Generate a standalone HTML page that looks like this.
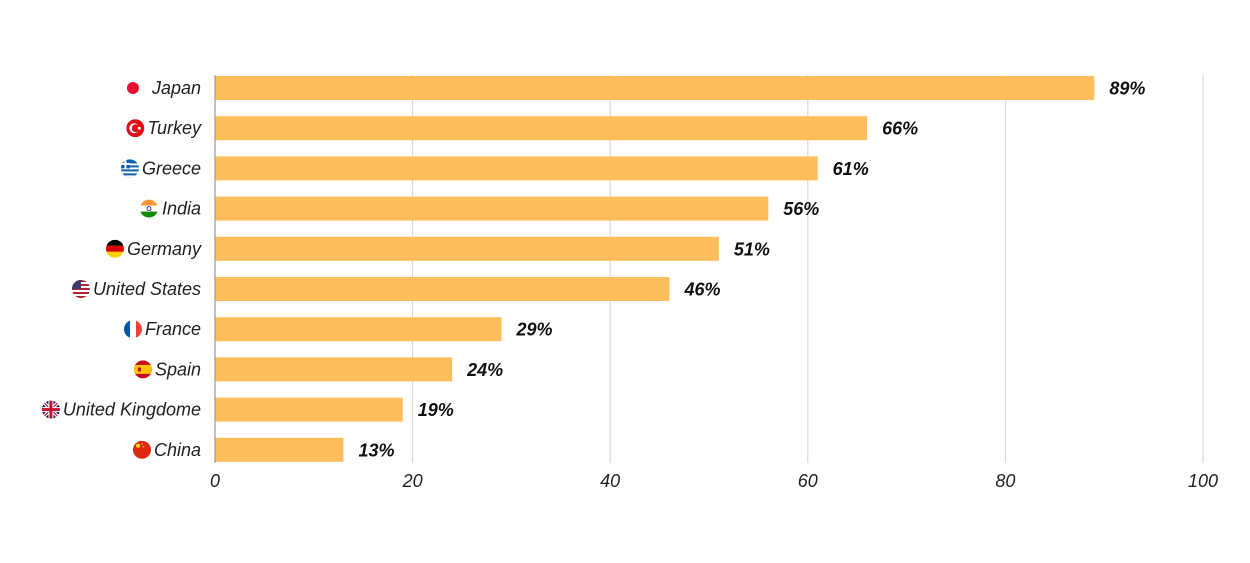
<!DOCTYPE html>
<html><head><meta charset="utf-8"><style>
html,body{margin:0;padding:0;background:#fff;}
svg{display:block;font-family:"Liberation Sans",sans-serif;}
</style></head><body>
<svg id="chart" width="1250" height="563" viewBox="0 0 1250 563" xmlns="http://www.w3.org/2000/svg">
<defs>
<clipPath id="fc"><circle cx="0" cy="0" r="9"/></clipPath>
</defs>
<g id="grid"></g>
<g id="bars"></g>
<g id="labels"></g>
<g id="ticks"></g>
</svg>
<script>
const categories=["Japan","Turkey","Greece","India","Germany","United States","France","Spain","United Kingdome","China"];
const values=[89,66,61,56,51,46,29,24,19,13];
const tickValues=[0,20,40,60,80,100];
const tickLabels=["0","20","40","60","80","100"];
const NS="http://www.w3.org/2000/svg";
const x0=215,x1=1203,yTop=75,yBot=463,rowStep=40.2,firstCenter=88,barH=24;
const xs=v=>x0+(v/100)*(x1-x0);
const yc=i=>firstCenter+i*rowStep;
function mk(t,a,p){const e=document.createElementNS(NS,t);for(const k in a)e.setAttribute(k,a[k]);p.appendChild(e);return e;}
const grid=document.getElementById('grid'),bars=document.getElementById('bars'),labels=document.getElementById('labels'),ticks=document.getElementById('ticks');
tickValues.forEach((v,i)=>{
  if(v>0){const l=mk('line',{x1:xs(v),x2:xs(v),y1:yTop,y2:yBot,stroke:'#d6d6d6','stroke-width':1},grid);
  
  }
  const t=mk('text',{x:xs(v),y:487,'text-anchor':'middle','font-size':18,'font-style':'italic',fill:'#222'},ticks);
  t.textContent=tickLabels[i];
  
  
});
const ax=mk('line',{x1:x0,x2:x0,y1:yTop,y2:yBot,stroke:'#999','stroke-width':1.2},ticks);


const flags={
"Japan":'<rect x="-9" y="-9" width="18" height="18" fill="#fff"/><circle r="6" fill="#e8112d"/>',
"Turkey":'<rect x="-9" y="-9" width="18" height="18" fill="#e30a17"/><circle cx="-1" r="5" fill="#fff"/><circle cx="0.5" r="4" fill="#e30a17"/><circle cx="4" r="1.5" fill="#fff"/>',
"Greece":'<rect x="-9" y="-9" width="18" height="18" fill="#0d5eaf"/><rect x="-9" y="-5" width="18" height="2" fill="#fff"/><rect x="-9" y="-1" width="18" height="2" fill="#fff"/><rect x="-9" y="3" width="18" height="2" fill="#fff"/><rect x="-9" y="7" width="18" height="2" fill="#fff"/><rect x="-9" y="-9" width="9" height="9" fill="#0d5eaf"/><rect x="-5.5" y="-9" width="2" height="9" fill="#fff"/><rect x="-9" y="-5.5" width="9" height="2" fill="#fff"/>',
"India":'<rect x="-9" y="-9" width="18" height="6" fill="#ff9933"/><rect x="-9" y="-3" width="18" height="6" fill="#fff"/><rect x="-9" y="3" width="18" height="6" fill="#138808"/><circle r="2" fill="none" stroke="#000080" stroke-width="0.8"/>',
"Germany":'<rect x="-9" y="-9" width="18" height="6" fill="#000"/><rect x="-9" y="-3" width="18" height="6" fill="#dd0000"/><rect x="-9" y="3" width="18" height="6" fill="#ffce00"/>',
"United States":'<rect x="-9" y="-9" width="18" height="18" fill="#fff"/><rect x="-9" y="-9" width="18" height="2" fill="#b22234"/><rect x="-9" y="-5" width="18" height="2" fill="#b22234"/><rect x="-9" y="-1" width="18" height="2" fill="#b22234"/><rect x="-9" y="3" width="18" height="2" fill="#b22234"/><rect x="-9" y="7" width="18" height="2" fill="#b22234"/><rect x="-9" y="-9" width="9" height="9" fill="#3c3b6e"/>',
"France":'<rect x="-9" y="-9" width="6" height="18" fill="#0055a4"/><rect x="-3" y="-9" width="6" height="18" fill="#fff"/><rect x="3" y="-9" width="6" height="18" fill="#ef4135"/>',
"Spain":'<rect x="-9" y="-9" width="18" height="18" fill="#c60b1e"/><rect x="-9" y="-4.5" width="18" height="9" fill="#ffc400"/><rect x="-5" y="-2" width="3" height="4" fill="#c60b1e"/>',
"United Kingdome":'<rect x="-9" y="-9" width="18" height="18" fill="#012169"/><path d="M-9 -9L9 9M9 -9L-9 9" stroke="#fff" stroke-width="3.5"/><path d="M-9 -9L9 9M9 -9L-9 9" stroke="#c8102e" stroke-width="1.2"/><rect x="-9" y="-2.5" width="18" height="5" fill="#fff"/><rect x="-2.5" y="-9" width="5" height="18" fill="#fff"/><rect x="-9" y="-1.5" width="18" height="3" fill="#c8102e"/><rect x="-1.5" y="-9" width="3" height="18" fill="#c8102e"/>',
"China":'<rect x="-9" y="-9" width="18" height="18" fill="#de2910"/><circle cx="-4" cy="-4" r="2" fill="#ffde00"/><circle cx="0" cy="-6" r="0.8" fill="#ffde00"/><circle cx="1.5" cy="-3" r="0.8" fill="#ffde00"/>'
};
const measure=mk('text',{'font-size':18,'font-style':'italic',x:-1000,y:-1000},labels);
categories.forEach((c,i)=>{
  const y=yc(i);
  const b=mk('rect',{x:x0,y:y-barH/2,width:xs(values[i])-x0,height:barH,fill:'#ffbe5c'},bars);
  
  
  const v=mk('text',{x:xs(values[i])+15,y:y+6.5,'font-size':18,'font-weight':'bold','font-style':'italic',fill:'#111'},bars);
  v.textContent=values[i]+'%';
  
  
  const t=mk('text',{x:201,y:y+6,'text-anchor':'end','font-size':18,'font-style':'italic',fill:'#222'},labels);
  t.textContent=c;
  
  
  const w=t.getComputedTextLength();
  const gap=(c==="Japan")?19:(c==="India"?13:12);
  const g=mk('g',{transform:`translate(${201-w-gap},${y})`,'clip-path':'url(#fc)'},labels);
  g.innerHTML=flags[c];
  
  
});
measure.remove();
</script>
</body></html>
